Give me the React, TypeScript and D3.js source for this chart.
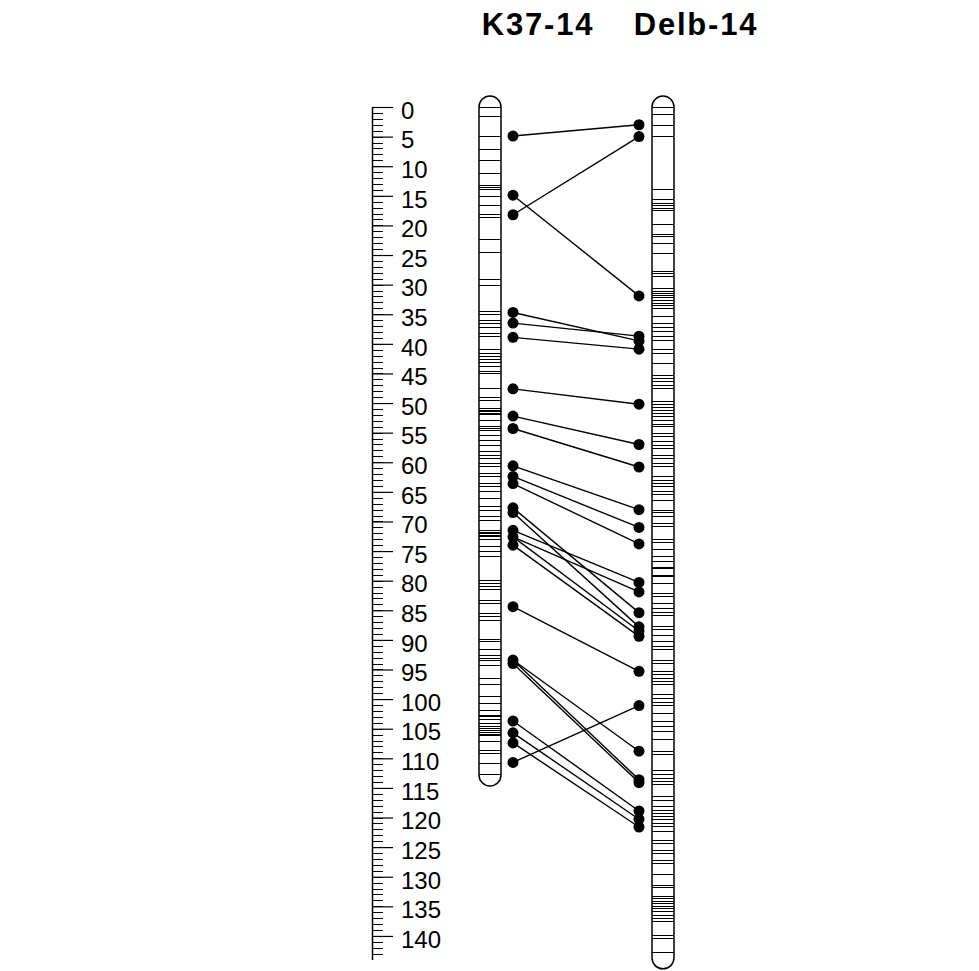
import React, { useEffect, useRef } from 'react';
import * as d3 from 'd3';

// chromosome titles and total lengths (cM)
const mapNames = ['K37-14', 'Delb-14'];
const mapLengths = [112.8, 143.7];

// marker positions (cM) on each linkage group
const leftMarkers = [
  0, 1.6, 4.9, 7.1, 9.1, 11.3, 13.2, 13.6, 13.9, 15.1, 16.6, 18.2, 18.7, 22.3, 24.6, 29.2, 30.2,
  34.6, 35.0, 36.0, 36.5, 37.2, 38.2, 38.7, 41.0, 41.6, 42.2, 42.6, 43.2, 43.8, 44.7, 45.0, 47.5,
  49.0, 49.5, 50.9, 51.2, 51.5, 51.8, 52.0, 52.9, 54.0, 54.3, 54.6, 55.4, 56.3, 57.1, 58.2, 58.8,
  59.3, 60.2, 60.8, 61.9, 62.4, 63.6, 64.1, 65.0, 66.1, 67.5, 68.1, 69.2, 69.8, 71.5, 71.8, 72.0,
  72.3, 72.6, 73.1, 74.3, 75.1, 76.0, 79.9, 80.5, 80.9, 81.5, 83.3, 83.8, 85.5, 86.1, 86.7, 90.0,
  90.3, 91.7, 92.6, 93.1, 93.4, 94.3, 96.5, 97.6, 99.6, 100.7, 101.9, 102.7, 103.0, 103.5, 104.1,
  104.7, 105.0, 105.3, 105.6, 105.9, 106.1, 107.2, 108.6, 109.2, 110.9, 112.8,
];

const rightMarkers = [
  0, 1.35, 3.2, 5.0, 14.0, 15.7, 16.3, 16.7, 17.1, 17.5, 19.9, 21.5, 21.8, 23.1, 24.7, 27.8, 28.2,
  28.7, 30.6, 31.2, 31.5, 31.8, 32.1, 32.6, 33.2, 33.6, 34.0, 35.4, 36.5, 37.2, 38.0, 38.7, 39.5,
  41.0, 41.6, 43.3, 45.3, 45.8, 46.4, 47.0, 47.5, 49.8, 50.3, 50.7, 51.2, 51.7, 52.3, 52.9, 53.7,
  54.0, 55.1, 55.7, 56.5, 57.1, 57.7, 58.8, 59.3, 60.2, 60.8, 62.4, 63.0, 63.6, 64.1, 65.0, 65.5,
  66.4, 68.1, 68.5, 69.2, 70.3, 70.9, 73.1, 73.6, 74.8, 76.0, 76.8, 77.7, 77.9, 79.1, 79.3, 80.5,
  82.1, 82.6, 83.8, 84.7, 85.3, 85.8, 87.8, 88.2, 89.2, 90.3, 91.2, 91.7, 93.4, 94.0, 95.4, 95.9,
  96.5, 97.1, 97.6, 99.3, 99.9, 100.5, 101.0, 102.4, 103.8, 104.7, 105.5, 106.9, 108.9, 109.3,
  112.0, 112.8, 113.4, 114.0, 114.5, 116.4, 117.1, 118.1, 118.8, 119.3, 119.9, 120.4, 121.0,
  121.6, 122.4, 123.8, 124.4, 125.5, 126.1, 127.2, 127.8, 129.6, 131.4, 131.8, 133.3, 133.7,
  134.1, 134.5, 135.0, 135.4, 135.8, 136.5, 137.1, 137.6, 139.9, 140.4, 142.8,
];

// shared markers: position on left map -> position on right map
const linkLeft = [
  4.9, 14.9, 18.2, 34.7, 36.5, 38.9, 47.6, 52.2, 54.3, 60.6, 62.4, 63.6, 67.7, 68.5, 71.5, 72.6,
  72.6, 74.0, 84.4, 93.4, 93.4, 94.0, 103.7, 105.7, 107.4, 110.7,
];
const linkRight = [
  3.0, 31.9, 5.0, 39.5, 38.7, 40.9, 50.2, 57.0, 60.8, 68.0, 71.0, 73.8, 85.4, 87.8, 80.3, 81.9,
  88.5, 89.4, 95.3, 108.8, 113.6, 114.1, 118.9, 120.3, 121.6, 101.1,
];

const W = 979;
const H = 971;

const yScale = d3.scaleLinear().domain([0, 144]).range([107, 107 + 144 * 5.921]);

const leftX = 479;
const rightX = 652;
const chrW = 22;
const leftDotX = 513;
const rightDotX = 639;

function chromPath(x0: number, len: number) {
  const r = chrW / 2;
  const top = yScale(0);
  const bot = yScale(len);
  return `M${x0},${top} A${r},${r} 0 0 1 ${x0 + chrW},${top} L${x0 + chrW},${bot} A${r},${r} 0 0 1 ${x0},${bot} Z`;
}

const Chromosome: React.FC<{ x: number; markers: number[]; len: number }> = ({ x, markers, len }) => (
  <g>
    <path d={chromPath(x, len)} fill="white" stroke="black" strokeWidth={1.5} />
    {markers.map((m, i) => (
      <line key={i} x1={x} x2={x + chrW} y1={yScale(m)} y2={yScale(m)} stroke="black"
        strokeWidth={1} shapeRendering="crispEdges" />
    ))}
  </g>
);

export default function App() {
  const axisRef = useRef<SVGGElement>(null);

  useEffect(() => {
    if (!axisRef.current) return;
    const g = d3.select(axisRef.current);
    g.selectAll('*').remove();

    // minor ticks every 1 cM + ruler line
    const minor = g.append('g').call(
      d3.axisRight(yScale).tickValues(d3.range(0, 144)).tickSize(11).tickSizeOuter(0).tickFormat(() => '')
    );
    minor.selectAll('line').attr('stroke-width', 1).attr('shape-rendering', 'crispEdges');
    minor.select('.domain').attr('stroke-width', 1.5);

    // major ticks every 5 cM
    const major = g.append('g').call(
      d3.axisRight(yScale).tickValues(d3.range(0, 141, 5)).tickSize(21).tickPadding(8).tickSizeOuter(0)
    );
    major.select('.domain').remove();
    major.selectAll('line').attr('stroke-width', 1.2);
    major.attr('font-size', 24).attr('font-family', 'Liberation Sans, Arial, sans-serif');
    major.selectAll('text').attr('dy', '0.47em').attr('fill', '#000');
  }, []);

  return (
    <svg width={W} height={H} style={{ position: 'absolute', left: 0, top: 0, background: 'white' }}>
      <rect width={W} height={H} fill="white" />

      <g ref={axisRef} transform="translate(372,0)" />

      <text x={538} y={35} textAnchor="middle" fontSize={31} fontWeight="bold" letterSpacing={1.8}
        fontFamily="Liberation Sans, Arial, sans-serif">{mapNames[0]}</text>
      <text x={696} y={35} textAnchor="middle" fontSize={31} fontWeight="bold" letterSpacing={1.8}
        fontFamily="Liberation Sans, Arial, sans-serif">{mapNames[1]}</text>

      <Chromosome x={leftX} markers={leftMarkers} len={mapLengths[0]} />
      <Chromosome x={rightX} markers={rightMarkers} len={mapLengths[1]} />

      {linkLeft.map((l, i) => (
        <line key={'ln' + i} x1={leftDotX} y1={yScale(l)} x2={rightDotX} y2={yScale(linkRight[i])}
          stroke="black" strokeWidth={1.4} />
      ))}
      {Array.from(new Set(linkLeft)).map((l, i) => (
        <circle key={'lc' + i} cx={leftDotX} cy={yScale(l)} r={5.5} fill="black" />
      ))}
      {Array.from(new Set(linkRight)).map((r, i) => (
        <circle key={'rc' + i} cx={rightDotX} cy={yScale(r)} r={5.5} fill="black" />
      ))}
    </svg>
  );
}
